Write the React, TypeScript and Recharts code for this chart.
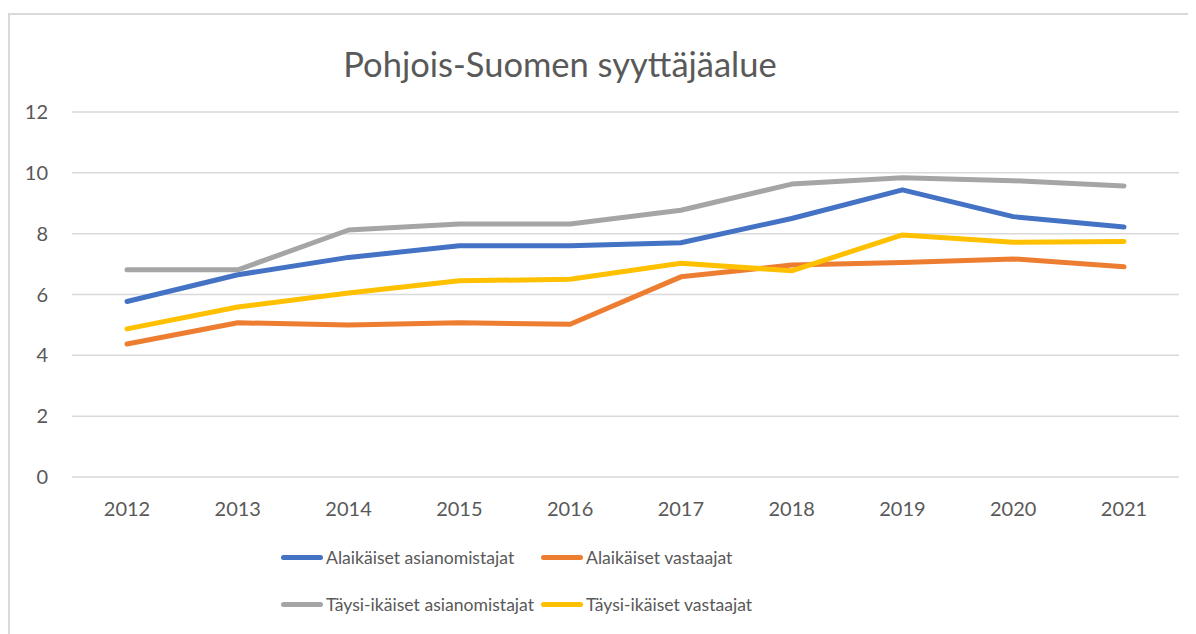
import React from 'react';
import { LineChart, Line, XAxis, YAxis, CartesianGrid } from 'recharts';

const years = ['2012', '2013', '2014', '2015', '2016', '2017', '2018', '2019', '2020', '2021'];
const alaikaisetAsianomistajat = [5.77, 6.65, 7.22, 7.6, 7.6, 7.7, 8.5, 9.44, 8.56, 8.22];
const alaikaisetVastaajat = [4.37, 5.07, 5.0, 5.07, 5.02, 6.58, 6.97, 7.05, 7.17, 6.91];
const taysiIkaisetAsianomistajat = [6.81, 6.81, 8.12, 8.32, 8.32, 8.77, 9.63, 9.84, 9.74, 9.57];
const taysiIkaisetVastaajat = [4.87, 5.59, 6.05, 6.45, 6.5, 7.03, 6.78, 7.96, 7.72, 7.74];
const yTicks = [0, 2, 4, 6, 8, 10, 12];

const series = [
  { key: 'a', name: 'Alaikäiset asianomistajat', color: '#4472C4', values: alaikaisetAsianomistajat },
  { key: 'b', name: 'Alaikäiset vastaajat', color: '#ED7D31', values: alaikaisetVastaajat },
  { key: 'c', name: 'Täysi-ikäiset asianomistajat', color: '#A5A5A5', values: taysiIkaisetAsianomistajat },
  { key: 'd', name: 'Täysi-ikäiset vastaajat', color: '#FFC000', values: taysiIkaisetVastaajat },
];

const data = years.map((year, i) => {
  const row: any = { year };
  series.forEach(s => { row[s.key] = s.values[i]; });
  return row;
});

const FONT = 'Lato, "Open Sans", sans-serif';
const TEXT = '#595959';

export default function App() {
  return (
    <div
      style={{
        position: 'relative',
        marginTop: 5,
        width: 1200,
        height: 640,
        border: '2px solid #D9D9D9',
        boxSizing: 'border-box',
        fontFamily: FONT,
        background: '#fff',
      }}
    >
      <div
        style={{
          position: 'absolute',
          left: 0,
          width: 1100,
          top: 28,
          textAlign: 'center',
          fontSize: 34.5,
          color: TEXT,
          whiteSpace: 'nowrap',
        }}
      >
        Pohjois-Suomen syyttäjäalue
      </div>
      <div style={{ position: 'absolute', left: 0, top: 0 }}>
        <LineChart
          width={1186}
          height={620}
          data={data}
          margin={{ top: 97, right: 17, left: 0, bottom: 128 }}
        >
          <CartesianGrid vertical={false} stroke="#D9D9D9" strokeWidth={1.5} />
          <XAxis
            dataKey="year"
            axisLine={false}
            tickLine={false}
            tickSize={0}
            tickMargin={25}
            height={30}
            padding={{ left: 55, right: 55 }}
            tick={{ fill: TEXT, fontSize: 20, fontFamily: FONT }}
          />
          <YAxis
            domain={[0, 12]}
            ticks={yTicks}
            axisLine={false}
            tickLine={false}
            tickSize={0}
            tickMargin={24}
            width={62}
            tick={{ fill: TEXT, fontSize: 20, fontFamily: FONT }}
          />
          {series.map(s => (
            <Line
              key={s.key}
              dataKey={s.key}
              name={s.name}
              stroke={s.color}
              strokeWidth={5}
              strokeLinecap="round"
              strokeLinejoin="round"
              dot={false}
              activeDot={false}
              type="linear"
              isAnimationActive={false}
            />
          ))}
        </LineChart>
      </div>
      <div
        style={{
          position: 'absolute',
          left: 271,
          top: 519,
          display: 'grid',
          gridTemplateColumns: '260px 320px',
          color: TEXT,
          fontSize: 17.6,
        }}
      >
        {series.map(s => (
          <div key={s.key} style={{ display: 'flex', alignItems: 'center', height: 47, whiteSpace: 'nowrap' }}>
            <span
              style={{
                display: 'inline-block',
                width: 42,
                height: 5,
                borderRadius: 3,
                background: s.color,
                marginRight: 3,
                flexShrink: 0,
              }}
            />
            <span>{s.name}</span>
          </div>
        ))}
      </div>
    </div>
  );
}
